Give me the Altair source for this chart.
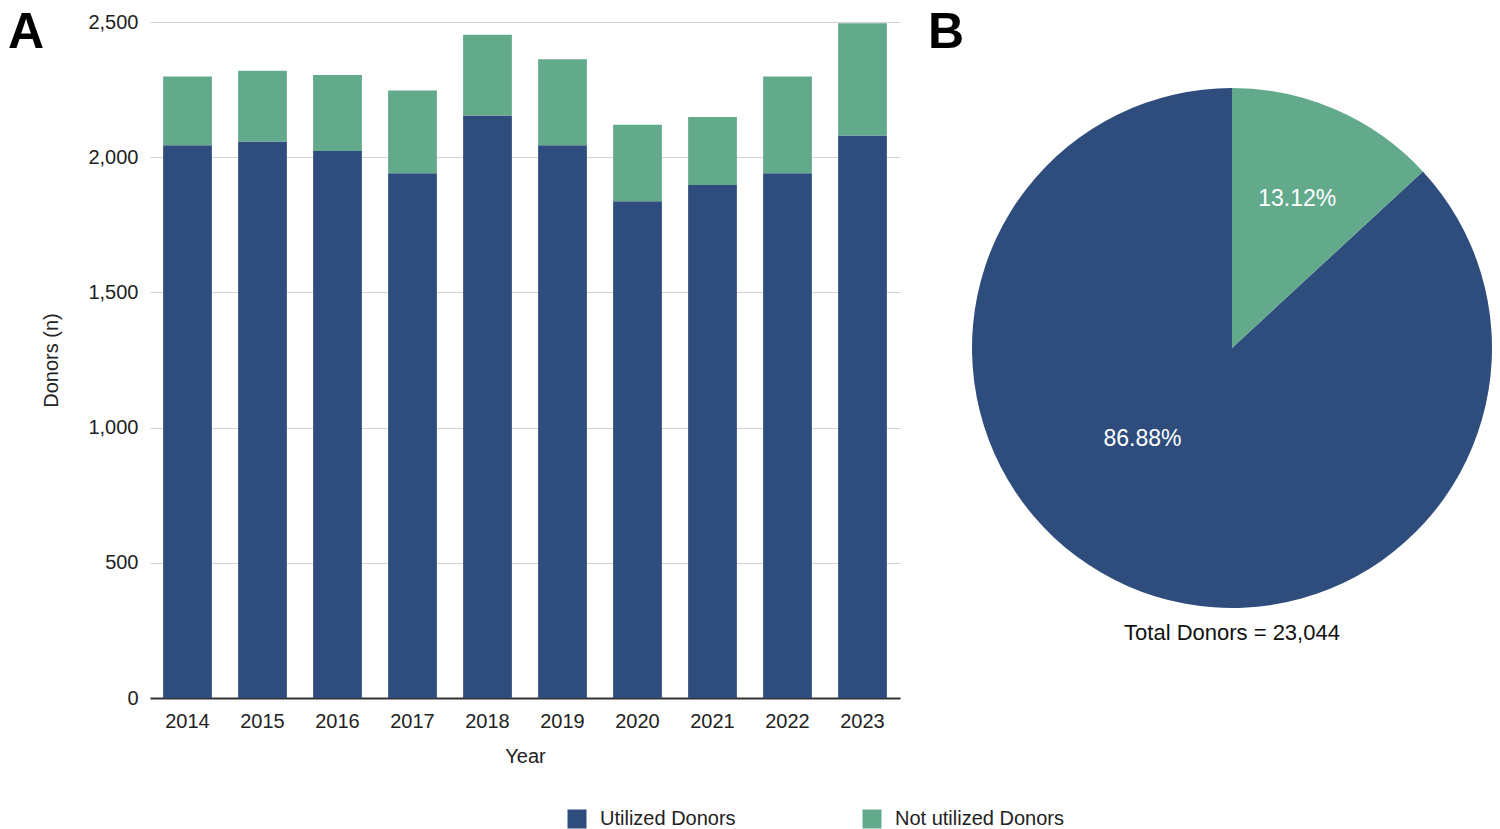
import altair as alt
import pandas as pd

years = ["2014", "2015", "2016", "2017", "2018", "2019", "2020", "2021", "2022", "2023"]
utilized = [2044, 2058, 2023, 1941, 2154, 2044, 1837, 1897, 1941, 2080]
not_utilized = [254, 262, 281, 306, 299, 318, 283, 252, 357, 415]
series = ["Utilized Donors", "Not utilized Donors"]
colors = ["#2e4d7d", "#63aa8c"]
pie_values = [20021, 3023]
y_ticks = [0, 500, 1000, 1500, 2000, 2500]

FONT = "Liberation Sans"

rows = []
for yr, u, n in zip(years, utilized, not_utilized):
    rows.append({"year": yr, "series": series[0], "donors": u, "rank": 0})
    rows.append({"year": yr, "series": series[1], "donors": n, "rank": 1})
bar_df = pd.DataFrame(rows)

total = sum(pie_values)
pie_df = pd.DataFrame({
    "series": series,
    "value": pie_values,
    "rank": [1, 0],
    "pct": [f"{v / total * 100:.2f}%" for v in pie_values],
})

legend = alt.Legend(
    title=None, orient="none", legendX=417, legendY=787, direction="horizontal",
    symbolType="square", symbolSize=361, symbolStrokeWidth=0, labelFontSize=20,
    labelColor="#222222", labelOffset=13, columnPadding=126, padding=0, labelLimit=400,
)
color = alt.Color("series:N", scale=alt.Scale(domain=series, range=colors), legend=legend)

bars = alt.Chart(bar_df).mark_bar().encode(
    x=alt.X("year:O", title="Year",
            scale=alt.Scale(paddingInner=0.35, paddingOuter=0.175),
            axis=alt.Axis(labelAngle=0, labelFontSize=20, labelColor="#222222", labelPadding=13,
                          ticks=False, domainColor="#333333", domainWidth=2,
                          titleFontSize=20, titleFontWeight="normal", titleColor="#222222",
                          titlePadding=15, grid=False)),
    y=alt.Y("donors:Q", stack="zero", title="Donors (n)",
            scale=alt.Scale(domain=[0, 2500], nice=False),
            axis=alt.Axis(values=y_ticks, format=",d", labelFontSize=20, labelColor="#222222",
                          labelPadding=12, ticks=False, domain=False, gridColor="#d2d2d2",
                          titleFontSize=20, titleFontWeight="normal", titleColor="#222222",
                          titlePadding=26)),
    color=color,
    order=alt.Order("rank:Q", sort="ascending"),
)

label_a = alt.Chart(pd.DataFrame({"t": ["A"]})).mark_text(
    align="left", baseline="alphabetic", fontSize=50, fontWeight="bold", color="black"
).encode(text="t:N", x=alt.value(-142), y=alt.value(26))

left = alt.layer(bars, label_a).properties(width=750, height=676)

cx, cy, r = 304, 326, 260
arcs = alt.Chart(pie_df).mark_arc(radius=r).encode(
    theta=alt.Theta("value:Q", stack=True),
    order=alt.Order("rank:Q", sort="ascending"),
    color=color,
    x=alt.value(cx), y=alt.value(cy),
)
txt_base = alt.Chart(pie_df).encode(
    theta=alt.Theta("value:Q", stack=True),
    order=alt.Order("rank:Q", sort="ascending"),
    detail="series:N",
    x=alt.value(cx), y=alt.value(cy),
)
lab_small = txt_base.transform_calculate(
    lbl=f"datum.series === '{series[1]}' ? datum.pct : ''"
).mark_text(radius=163, fontSize=23, fill="white").encode(text="lbl:N")
lab_big = txt_base.transform_calculate(
    lbl=f"datum.series === '{series[0]}' ? datum.pct : ''"
).mark_text(radius=126, dx=-39, dy=-24, fontSize=23, fill="white").encode(text="lbl:N")
total_txt = alt.Chart(pd.DataFrame({"t": [f"Total Donors = {total:,}"]})).mark_text(
    fontSize=22, color="#111111", baseline="middle"
).encode(text="t:N", x=alt.value(cx), y=alt.value(611))
label_b = alt.Chart(pd.DataFrame({"t": ["B"]})).mark_text(
    align="left", baseline="alphabetic", fontSize=50, fontWeight="bold", color="black"
).encode(text="t:N", x=alt.value(0), y=alt.value(26))

right = alt.layer(arcs, lab_small, lab_big, total_txt, label_b).properties(width=560, height=676)

chart = alt.hconcat(left, right, spacing=28).properties(padding=0).configure(
    font=FONT
).configure_view(stroke=None)

chart.save("out.html", embed_options={"renderer": "svg", "actions": False})
